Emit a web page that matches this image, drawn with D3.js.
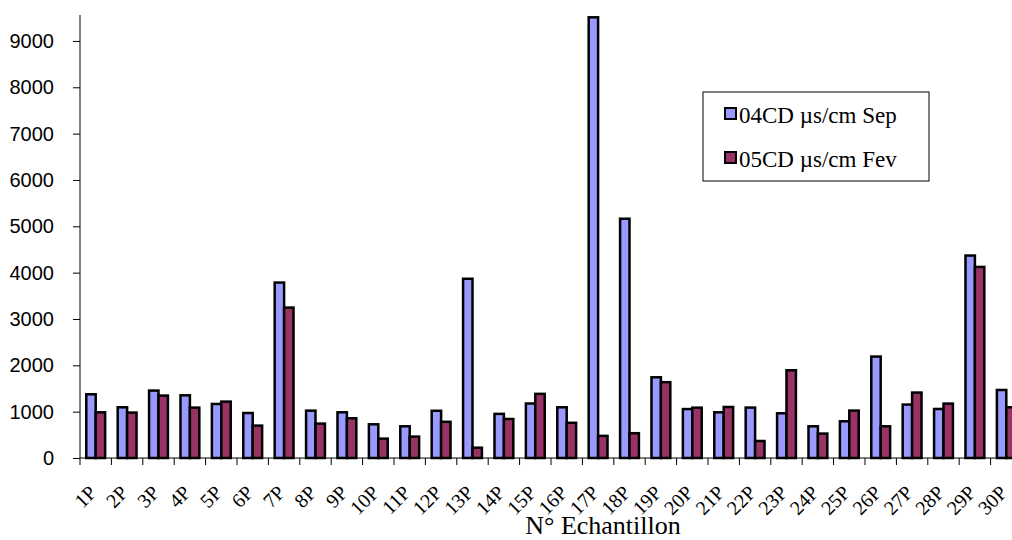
<!DOCTYPE html>
<html>
<head>
<meta charset="utf-8">
<script src="https://cdn.jsdelivr.net/npm/d3@7"></script>
<style>
  body { margin: 0; background: #fff; }
  svg { display: block; }
</style>
</head>
<body>
<div id="chart"></div>
<script>
const samples = ['1P','2P','3P','4P','5P','6P','7P','8P','9P','10P','11P','12P','13P','14P','15P',
                 '16P','17P','18P','19P','20P','21P','22P','23P','24P','25P','26P','27P','28P','29P','30P'];
const sepValues = [1375, 1094, 1455, 1353, 1166, 971, 3786, 1022, 986, 727, 684, 1019, 3868, 952, 1176,
                   1094, 9510, 5163, 1742, 1056, 986, 1088, 965, 684, 792, 2189, 1153, 1058, 4369, 1468];
const fevValues = [986, 980, 1347, 1087, 1217, 699, 3246, 742, 857, 418, 462, 781, 222, 842, 1384,
                   760, 477, 535, 1636, 1086, 1101, 367, 1893, 527, 1023, 684, 1412, 1174, 4123, 1094];
const seriesNames = ['04CD µs/cm Sep', '05CD µs/cm Fev'];
const seriesColors = ['#9999ff', '#993366'];
const yTicks = [0, 1000, 2000, 3000, 4000, 5000, 6000, 7000, 8000, 9000];

const width = 1012;
const height = 540;
const serif = 'Liberation Serif, Times New Roman, serif';

const svg = d3.select('#chart')
    .append('svg')
    .attr('width', width)
    .attr('height', height);

// plot area runs a bit past the right edge, as in the original crop
const x = d3.scaleBand()
    .domain(samples)
    .range([80, 1022])
    .padding(0);

const xSub = d3.scaleBand()
    .domain([0, 1])
    .range([0, x.bandwidth()])
    .paddingInner(0)
    .paddingOuter(0.667);

const y = d3.scaleLinear()
    .domain([0, 9560])
    .range([458, 15]);

// bars
const groups = svg.selectAll('.group')
    .data(samples)
    .enter()
    .append('g')
    .attr('class', 'group')
    .attr('transform', d => `translate(${x(d)},0)`);

groups.selectAll('rect')
    .data((d, i) => [sepValues[i], fevValues[i]])
    .enter()
    .append('rect')
    .attr('x', (d, j) => xSub(j))
    .attr('y', d => y(d))
    .attr('width', xSub.bandwidth())
    .attr('height', d => y(0) - y(d))
    .attr('fill', (d, j) => seriesColors[j])
    .attr('stroke', '#000')
    .attr('stroke-width', 2.5);

// y axis
const yAxis = svg.append('g')
    .attr('transform', 'translate(80,0)')
    .call(d3.axisLeft(y).tickValues(yTicks).tickSize(7).tickPadding(19).tickFormat(d3.format('d')));
yAxis.select('.domain').attr('d', `M0,${y(0)}V15`).attr('stroke', '#000');
yAxis.selectAll('.tick line').attr('stroke', '#000');
yAxis.selectAll('text')
    .attr('font-family', 'Liberation Sans, Arial, sans-serif')
    .attr('font-size', 20)
    .attr('fill', '#000');

// x axis: line and ticks at category boundaries
const xAxis = svg.append('g');
xAxis.append('line')
    .attr('x1', 80).attr('x2', 1022)
    .attr('y1', y(0)).attr('y2', y(0))
    .attr('stroke', '#000');
xAxis.selectAll('.xtick')
    .data(d3.range(samples.length + 1))
    .enter()
    .append('line')
    .attr('class', 'xtick')
    .attr('x1', i => 80 + i * x.step())
    .attr('x2', i => 80 + i * x.step())
    .attr('y1', y(0))
    .attr('y2', y(0) + 7)
    .attr('stroke', '#000');

xAxis.selectAll('.xlabel')
    .data(samples)
    .enter()
    .append('text')
    .attr('class', 'xlabel')
    .attr('transform', d => `translate(${x(d) + x.bandwidth() / 2 + 2},494) rotate(-45)`)
    .attr('text-anchor', 'end')
    .attr('font-family', serif)
    .attr('font-size', 20)
    .text(d => d);

svg.append('text')
    .attr('x', 603)
    .attr('y', 534)
    .attr('text-anchor', 'middle')
    .attr('font-family', serif)
    .attr('font-size', 26)
    .text('N° Echantillon');

// legend
const legend = svg.append('g');
legend.append('rect')
    .attr('x', 703).attr('y', 92)
    .attr('width', 226).attr('height', 89)
    .attr('fill', '#fff')
    .attr('stroke', '#000')
    .attr('stroke-width', 1);

const items = legend.selectAll('.item')
    .data(seriesNames)
    .enter()
    .append('g')
    .attr('class', 'item')
    .attr('transform', (d, i) => `translate(725,${108 + i * 44})`);

items.append('rect')
    .attr('width', 11).attr('height', 11)
    .attr('fill', (d, i) => seriesColors[i])
    .attr('stroke', '#000')
    .attr('stroke-width', 2);

items.append('text')
    .attr('x', 14)
    .attr('y', 14.5)
    .attr('font-family', serif)
    .attr('font-size', 23)
    .text(d => d);
</script>
</body>
</html>
